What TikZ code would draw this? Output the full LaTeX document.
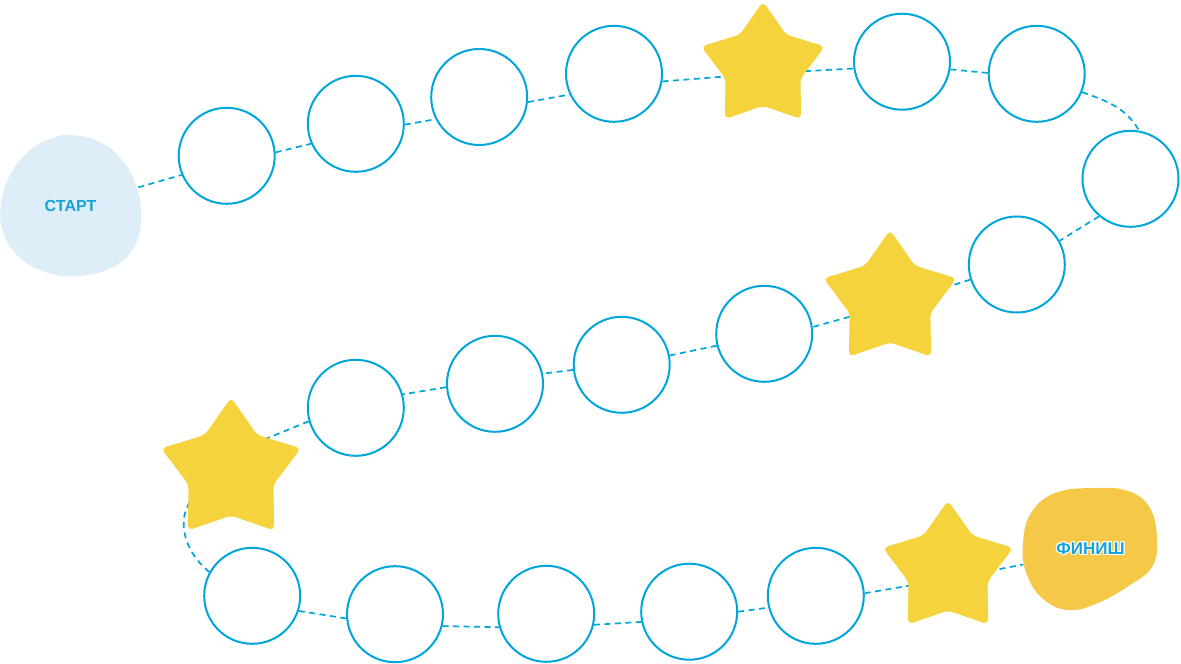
\documentclass[tikz,border=0pt]{standalone}
\usepackage{fontspec}
\setmainfont{Liberation Sans}[BoldFont={Liberation Sans Bold}]
\usepackage{contour}
\contourlength{1.1pt}
\usetikzlibrary{shapes.geometric,backgrounds}
\definecolor{cy}{HTML}{00A6DA}
\definecolor{stary}{HTML}{F5D33C}
\definecolor{finy}{HTML}{F5C847}
\definecolor{startb}{HTML}{DDEEF9}
\definecolor{txtc}{HTML}{14A3D8}
\tikzset{
  ring/.style={circle, draw=cy, line width=2pt, minimum size=96pt, inner sep=0pt},
  starnode/.style={star, star points=5, star point ratio=1.65, fill=stary, rounded corners=5pt, inner sep=0pt},
  trail/.style={draw=cy, line width=1.7pt, dash pattern=on 6pt off 4.5pt},
  blobnode/.style={circle, inner sep=0pt, font=\fontsize{16}{16}\selectfont\bfseries, text=txtc}
}
\begin{document}
\begin{tikzpicture}[x=1pt,y=-1pt]
\useasboundingbox (0,0) rectangle (1181,664);
% blobs
\fill[startb] plot[smooth cycle, tension=0.7] coordinates {(70,135) (100,142) (122,160) (136,185) (141,215) (135,245) (115,266) (80,276) (45,272) (18,256) (3,232) (1,205) (10,175) (30,150) (50,139)};
\fill[finy] plot[smooth cycle, tension=0.7] coordinates {(1093,488) (1128,491) (1150,508) (1157,540) (1152,567) (1130,585) (1098,603) (1068,610) (1042,598) (1026,572) (1023,543) (1031,513) (1055,493)};
\node[blobnode, minimum size=140pt] (start) at (70.5,205.5) {СТАРТ};
\node[blobnode, minimum size=137pt, font=\fontsize{17}{17}\selectfont\bfseries] (fin) at (1090.5,549) {\contour{white}{ФИНИШ}};
% circles
\node[ring] (c1) at (226.7,155.8) {};
\node[ring] (c2) at (355.8,123.8) {};
\node[ring] (c3) at (479.2,97) {};
\node[ring] (c4) at (614,73.8) {};
\node[ring] (c5) at (902,61.7) {};
\node[ring] (c6) at (1036.7,73.8) {};
\node[ring] (c7) at (1130.5,178.8) {};
\node[ring] (c8) at (1016.8,264.5) {};
\node[ring] (c9) at (764.2,333.8) {};
\node[ring] (c10) at (621.7,364.8) {};
\node[ring] (c11) at (495,383.8) {};
\node[ring] (c12) at (355.8,407.8) {};
\node[ring] (c13) at (252.2,595.8) {};
\node[ring] (c14) at (395,614.2) {};
\node[ring] (c15) at (546.2,613.8) {};
\node[ring] (c16) at (689.2,611.7) {};
\node[ring] (c17) at (815.8,595.8) {};
% stars
\node[starnode, minimum size=130pt] (s1) at (763,66.5) {};
\node[starnode, minimum size=140pt] (s2) at (890,300) {};
\node[starnode, minimum size=147pt] (s3) at (231,471) {};
\node[starnode, minimum size=137pt] (s4) at (948,569) {};
% trail
\begin{scope}[on background layer]
\draw[trail] (start.15) -- (c1.203);
\draw[trail] (c1.4) -- (c2.204);
\draw[trail] (c2.359) -- (c3.207);
\draw[trail] (c3.-6) -- (c4.205);
\draw[trail] (c4.-9) -- ([yshift=-7pt]s1.center);
\draw[trail] ([yshift=-7pt]s1.center) -- (c5.188);
\draw[trail] (c5.-9) -- (c6.179);
\draw[trail] (c6.-22) to[out=-20,in=120] (c7.80);
\draw[trail] (c7.230) -- (c8.29);
\draw[trail] (c8.198) -- ([yshift=-5.5pt]s2.center);
\draw[trail] ([yshift=-5.5pt]s2.center) -- (c9.8);
\draw[trail] (c9.194) -- (c10.11);
\draw[trail] (c10.186) -- (c11.12);
\draw[trail] (c11.184) -- (c12.16);
\draw[trail] (c12.196) -- ([yshift=18pt]s3.center);
\draw[trail] ([xshift=-26pt,yshift=-17pt]s3.center) to[out=210,in=141,looseness=1.15] (c13.151);
\draw[trail] (c13.-18) -- (c14.185);
\draw[trail] (c14.-14) -- (c15.196);
\draw[trail] (c15.-13) -- (c16.192);
\draw[trail] (c16.0) -- (c17.194);
\draw[trail] (c17.3) -- ([yshift=-10pt]s4.center);
\draw[trail] ([yshift=-10pt]s4.center) -- (fin.193);
\end{scope}
\end{tikzpicture}
\end{document}
